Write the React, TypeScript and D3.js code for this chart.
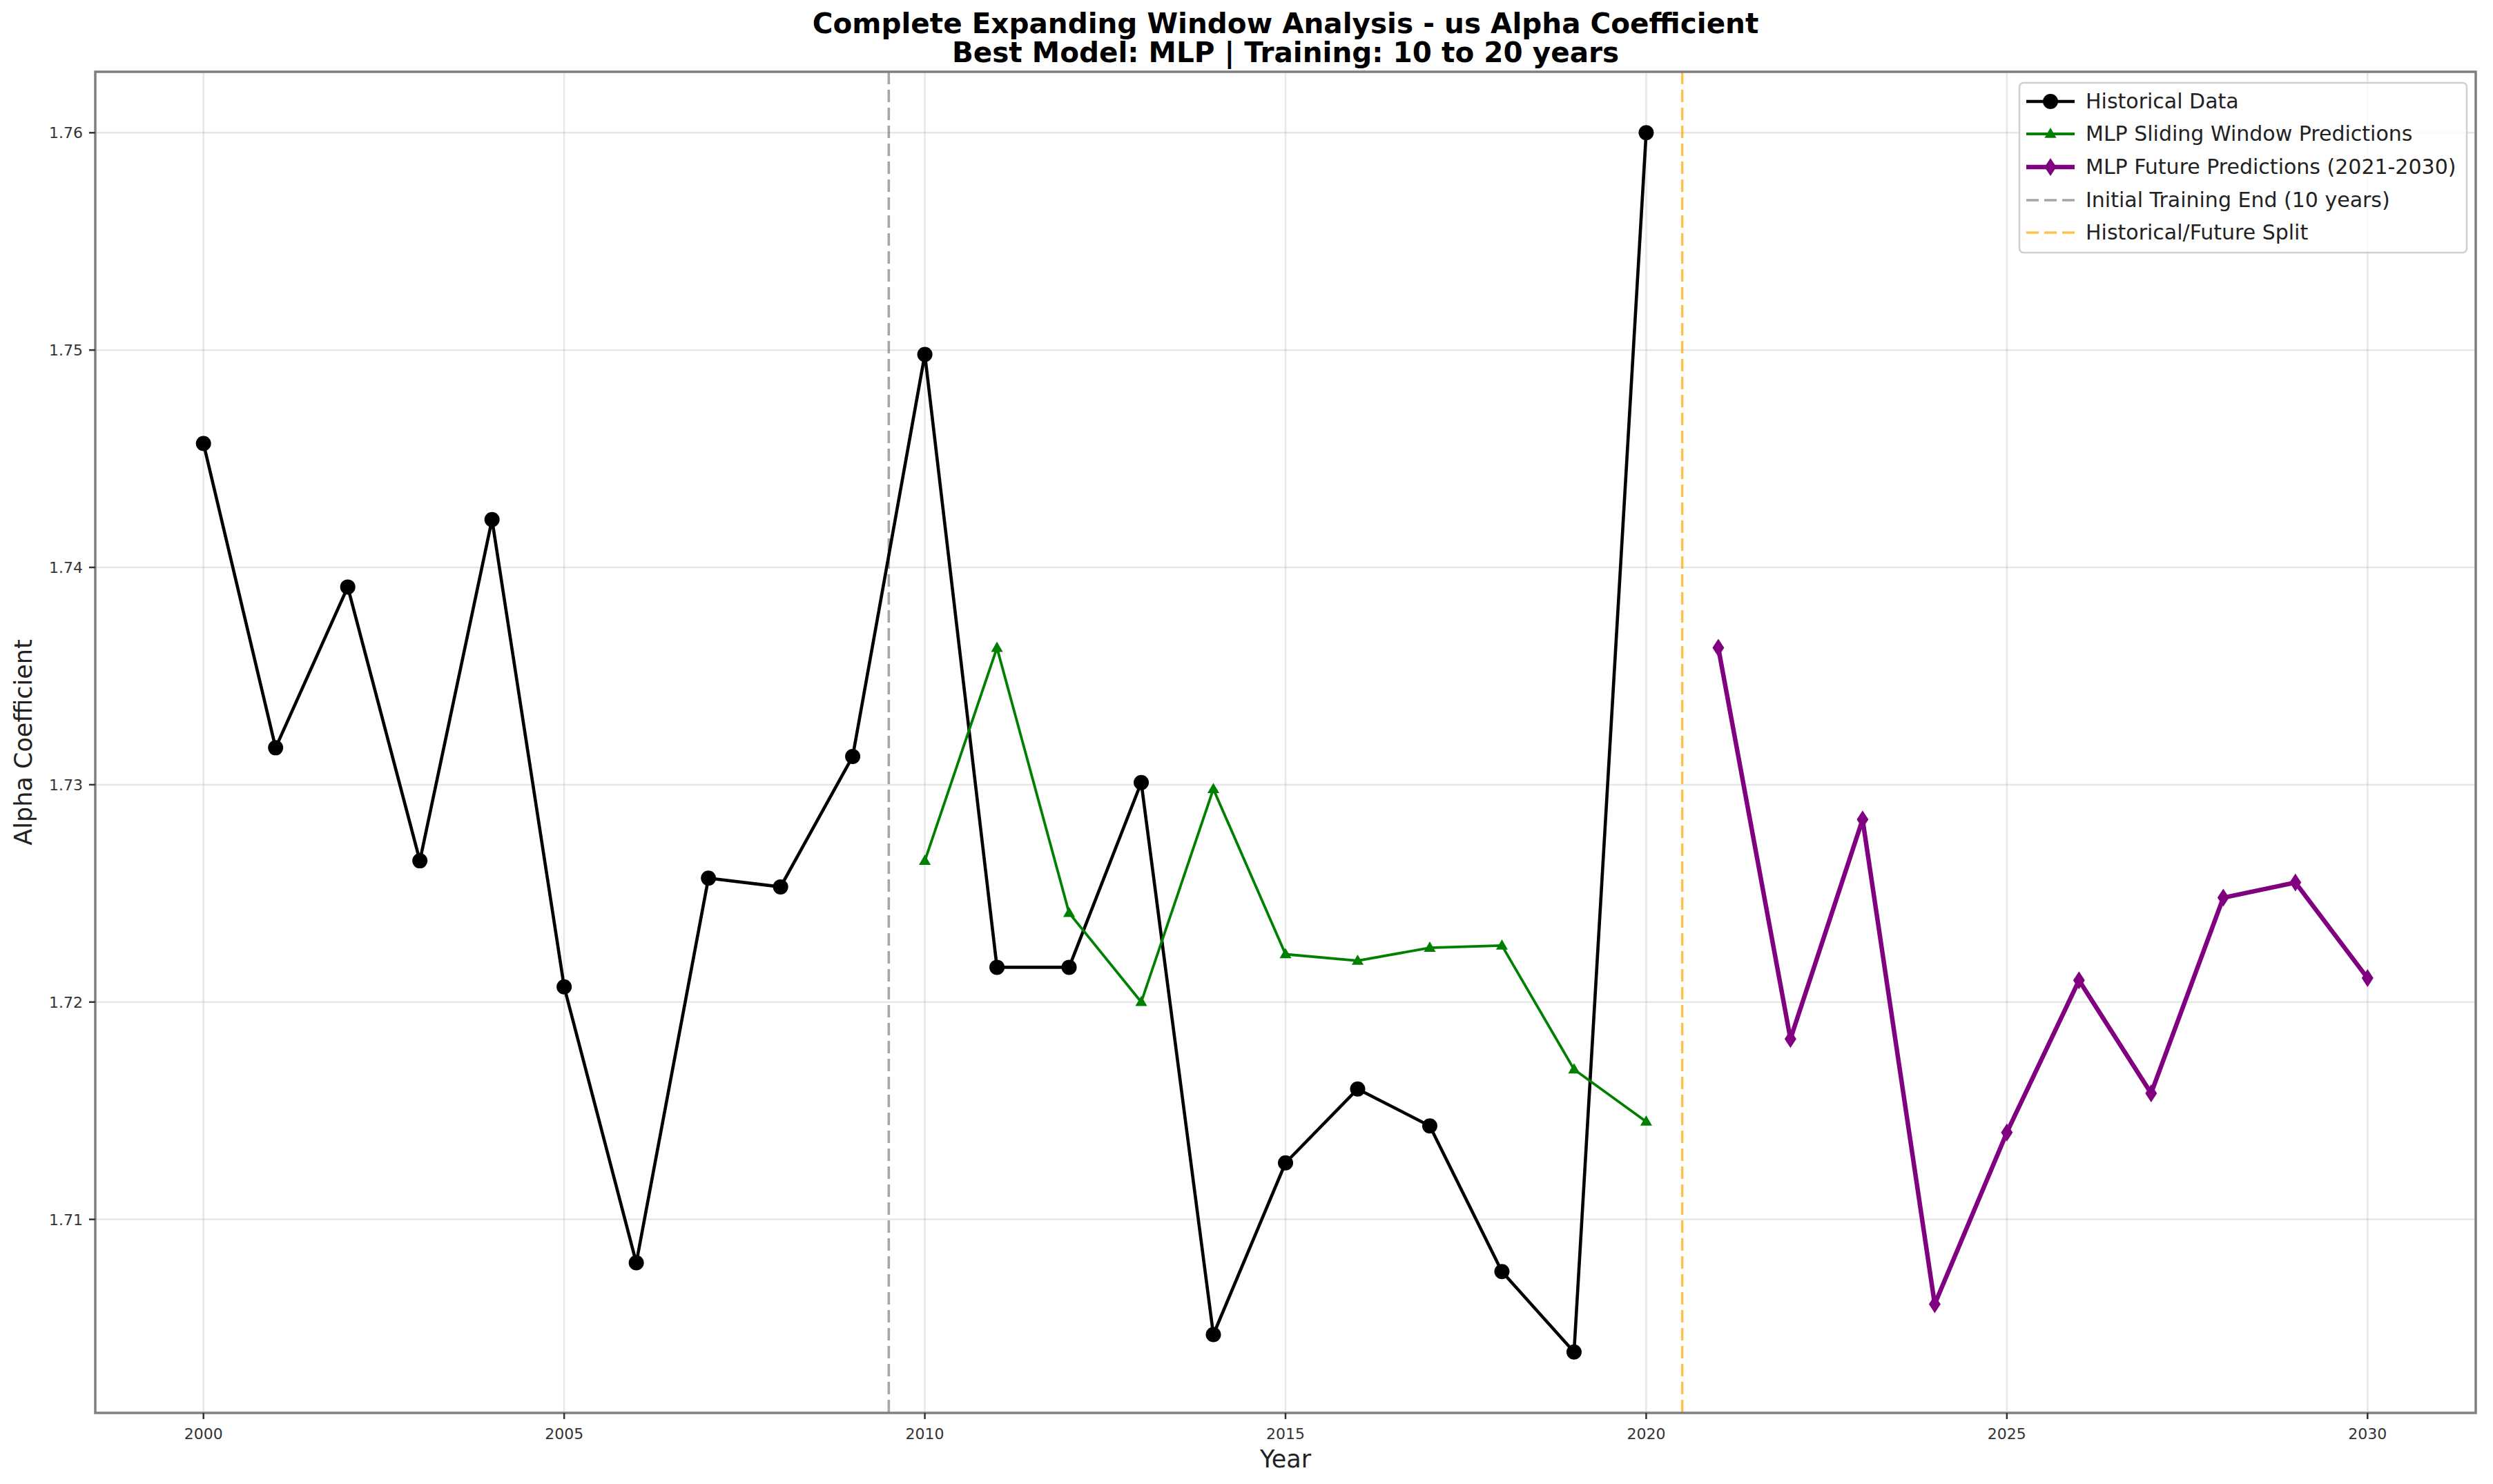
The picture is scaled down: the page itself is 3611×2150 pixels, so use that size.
import React from "react";
import * as d3 from "d3";

const histYears = d3.range(2000, 2021);
const histValues = [1.7457, 1.7317, 1.7391, 1.7265, 1.7422, 1.7207, 1.7080, 1.7257, 1.7253, 1.7313, 1.7498, 1.7216, 1.7216, 1.7301, 1.7047, 1.7126, 1.7160, 1.7143, 1.7076, 1.7039, 1.7600];
const slideYears = d3.range(2010, 2021);
const slideValues = [1.7265, 1.7363, 1.7241, 1.7200, 1.7298, 1.7222, 1.7219, 1.7225, 1.7226, 1.7169, 1.7145];
const futYears = d3.range(2021, 2031);
const futValues = [1.7363, 1.7183, 1.7284, 1.7061, 1.7140, 1.7210, 1.7158, 1.7248, 1.7255, 1.7211];
const xTicks = [2000, 2005, 2010, 2015, 2020, 2025, 2030];
const yTicks = [1.71, 1.72, 1.73, 1.74, 1.75, 1.76];
const legendLabels = [
  "Historical Data",
  "MLP Sliding Window Predictions",
  "MLP Future Predictions (2021-2030)",
  "Initial Training End (10 years)",
  "Historical/Future Split",
];

const W = 3611, H = 2150;
const L = 138, R = 3586, T = 104, B = 2047;
const FONT = "'DejaVu Sans', sans-serif";

export default function App() {
  const x = d3.scaleLinear().domain([1998.5, 2031.5]).range([L, R]);
  const allY = [...histValues, ...slideValues, ...futValues];
  const yMin = d3.min(allY)!, yMax = d3.max(allY)!;
  const pad = (yMax - yMin) * 0.05;
  const y = d3.scaleLinear().domain([yMin - pad, yMax + pad]).range([B, T]);
  const line = d3.line<[number, number]>().x(d => x(d[0])).y(d => y(d[1]));
  const hist = histYears.map((yr, i) => [yr, histValues[i]] as [number, number]);
  const slide = slideYears.map((yr, i) => [yr, slideValues[i]] as [number, number]);
  const fut = futYears.map((yr, i) => [yr, futValues[i]] as [number, number]);

  const tri = (cx: number, cy: number, s: number) =>
    `M${cx},${cy - s} L${cx + s * 0.95},${cy + s * 0.65} L${cx - s * 0.95},${cy + s * 0.65} Z`;
  const dia = (cx: number, cy: number, h: number, w: number) =>
    `M${cx},${cy - h} L${cx + w},${cy} L${cx},${cy + h} L${cx - w},${cy} Z`;

  const legX = 2925, legY = 120, legW = 648, legH = 246;
  const rowY = [147, 194, 242, 290, 337];
  const hx0 = 2935, hx1 = 3005, tx = 3021;

  return (
    <svg width={W} height={H} style={{ position: "absolute", left: 0, top: 0, background: "#fff" }} fontFamily={FONT}>
      <rect x={0} y={0} width={W} height={H} fill="#fff" />
      {/* grid */}
      {xTicks.map(t => (
        <line key={"gx" + t} x1={x(t)} x2={x(t)} y1={T} y2={B} stroke="#b0b0b0" strokeOpacity={0.3} strokeWidth={2.5} />
      ))}
      {yTicks.map(t => (
        <line key={"gy" + t} x1={L} x2={R} y1={y(t)} y2={y(t)} stroke="#b0b0b0" strokeOpacity={0.3} strokeWidth={2.5} />
      ))}
      {/* vertical reference lines */}
      <line x1={x(2009.5)} x2={x(2009.5)} y1={T} y2={B} stroke="#808080" strokeOpacity={0.7} strokeWidth={3.5} strokeDasharray="18,8" />
      <line x1={x(2020.5)} x2={x(2020.5)} y1={T} y2={B} stroke="#FFA500" strokeOpacity={0.7} strokeWidth={3.5} strokeDasharray="18,8" />
      {/* historical */}
      <path d={line(hist)!} fill="none" stroke="#000" strokeWidth={4.6} strokeLinejoin="round" />
      {hist.map((d, i) => (
        <circle key={"h" + i} cx={x(d[0])} cy={y(d[1])} r={11} fill="#000" />
      ))}
      {/* sliding */}
      <path d={line(slide)!} fill="none" stroke="#008000" strokeWidth={3.8} strokeLinejoin="round" />
      {slide.map((d, i) => (
        <path key={"s" + i} d={tri(x(d[0]), y(d[1]), 9)} fill="#008000" />
      ))}
      {/* future */}
      <path d={line(fut)!} fill="none" stroke="#800080" strokeWidth={6.5} strokeLinejoin="round" />
      {fut.map((d, i) => (
        <path key={"f" + i} d={dia(x(d[0]), y(d[1]), 13, 8.5)} fill="#800080" />
      ))}
      {/* frame */}
      <rect x={L} y={T} width={R - L} height={B - T} fill="none" stroke="#7f7f7f" strokeWidth={3.5} />
      {/* ticks */}
      {xTicks.map(t => (
        <g key={"xt" + t}>
          <line x1={x(t)} x2={x(t)} y1={B} y2={B + 9} stroke="#333" strokeWidth={2.5} />
          <text x={x(t)} y={B + 38} textAnchor="middle" fontSize={22} fill="#333">{t}</text>
        </g>
      ))}
      {yTicks.map(t => (
        <g key={"yt" + t}>
          <line x1={L - 9} x2={L} y1={y(t)} y2={y(t)} stroke="#333" strokeWidth={2.5} />
          <text x={L - 18} y={y(t) + 8} textAnchor="end" fontSize={22} fill="#333">{t.toFixed(2)}</text>
        </g>
      ))}
      {/* axis labels */}
      <text x={(L + R) / 2} y={2126} textAnchor="middle" fontSize={35} fill="#222">Year</text>
      <text transform={`translate(46,${(T + B) / 2}) rotate(-90)`} textAnchor="middle" fontSize={35} fill="#222">Alpha Coefficient</text>
      {/* title */}
      <text x={(L + R) / 2} y={48} textAnchor="middle" fontSize={40.5} fontWeight="bold" fill="#000">Complete Expanding Window Analysis - us Alpha Coefficient</text>
      <text x={(L + R) / 2} y={90} textAnchor="middle" fontSize={40.5} fontWeight="bold" fill="#000">Best Model: MLP | Training: 10 to 20 years</text>
      {/* legend */}
      <rect x={legX} y={legY} width={legW} height={legH} rx={6} fill="#fff" fillOpacity={0.8} stroke="#d0d0d0" strokeWidth={2.5} />
      <line x1={hx0} x2={hx1} y1={rowY[0]} y2={rowY[0]} stroke="#000" strokeWidth={4.6} />
      <circle cx={(hx0 + hx1) / 2} cy={rowY[0]} r={11} fill="#000" />
      <line x1={hx0} x2={hx1} y1={rowY[1]} y2={rowY[1]} stroke="#008000" strokeWidth={3.8} />
      <path d={tri((hx0 + hx1) / 2, rowY[1], 9)} fill="#008000" />
      <line x1={hx0} x2={hx1} y1={rowY[2]} y2={rowY[2]} stroke="#800080" strokeWidth={6.5} />
      <path d={dia((hx0 + hx1) / 2, rowY[2], 13, 8.5)} fill="#800080" />
      <line x1={hx0} x2={hx1} y1={rowY[3]} y2={rowY[3]} stroke="#808080" strokeOpacity={0.7} strokeWidth={3.5} strokeDasharray="18,8" />
      <line x1={hx0} x2={hx1} y1={rowY[4]} y2={rowY[4]} stroke="#FFA500" strokeOpacity={0.7} strokeWidth={3.5} strokeDasharray="18,8" />
      {legendLabels.map((lab, i) => (
        <text key={lab} x={tx} y={rowY[i] + 10} fontSize={30} fill="#222">{lab}</text>
      ))}
    </svg>
  );
}
